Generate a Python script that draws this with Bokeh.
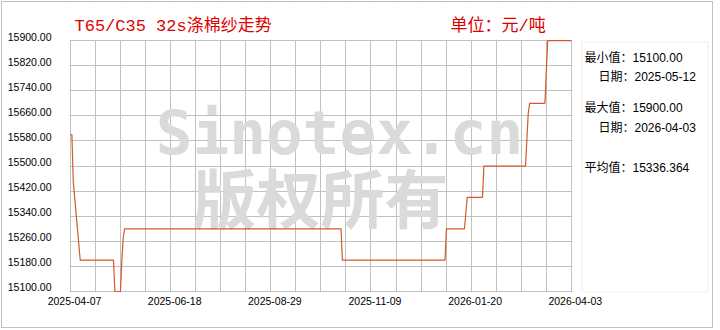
import numpy as np
import pandas as pd
from bokeh.plotting import figure
from bokeh.models import (Range1d, FixedTicker, Label, ColumnDataSource, Grid,
                          LinearAxis, DatetimeAxis, BoxAnnotation)
from bokeh.embed import file_html
from bokeh.resources import INLINE

# ---- data ----
dates = ["2025-04-07", "2025-04-08", "2025-04-09", "2025-04-10", "2025-04-11",
         "2025-04-14", "2025-05-08", "2025-05-09", "2025-05-13", "2025-05-14",
         "2025-05-15", "2025-05-16", "2025-10-19", "2025-10-20", "2026-01-02",
         "2026-01-03", "2026-01-16", "2026-01-18", "2026-01-29", "2026-01-30",
         "2026-03-01", "2026-03-03", "2026-03-04", "2026-03-15", "2026-03-17",
         "2026-04-03"]
prices = [15600, 15600, 15450, 15400, 15350,
          15200, 15200, 15100, 15100, 15200,
          15270, 15300, 15300, 15200, 15200,
          15300, 15300, 15400, 15400, 15500,
          15500, 15670, 15700, 15700, 15900,
          15900]

y_ticks = [15100, 15180, 15260, 15340, 15420, 15500, 15580, 15660, 15740, 15820, 15900]
y_tick_labels = ["15100.00", "15180.00", "15260.00", "15340.00", "15420.00", "15500.00",
                 "15580.00", "15660.00", "15740.00", "15820.00", "15900.00"]
x_tick_labels = ["2025-04-07", "2025-06-18", "2025-08-29", "2025-11-09", "2026-01-20", "2026-04-03"]

title_text = "T65/C35 32s涤棉纱走势"
unit_text = "单位：元/吨"
stats_lines = ["最小值：15100.00", "日期：2025-05-12", "最大值：15900.00", "日期：2026-04-03", "平均值：15336.364"]
watermark_1 = "Sinotex.cn"
watermark_2 = "版权所有"

GRID = "#c0c0c0"
LINE = "#D4582A"
RED = "#e00000"
LAB_FONT = "Liberation Sans"
CJK_FONT = "Liberation Mono, Noto Sans CJK SC"
STAT_FONT = "Liberation Sans, Noto Sans CJK SC"

# ---- scales ----
x0 = pd.Timestamp("2025-04-07")
x1 = pd.Timestamp("2026-04-03")
x0_ms = x0.value / 1e6
x1_ms = x1.value / 1e6
span = x1_ms - x0_ms
y0, y1 = y_ticks[0], y_ticks[-1]
px_x = span / 500.0          # data units per pixel (plotting area is 500 x 250 px)
px_y = (y1 - y0) / 250.0

src = ColumnDataSource(dict(x=pd.to_datetime(dates), y=prices))

# The frame covers the plotting area plus the title strip and the statistics panel,
# so that all texts can be drawn inside it; the parts outside the plotting area are
# blanked out.
p = figure(width=712, height=327,
           x_range=Range1d(x0_ms - 1 * px_x, x0_ms + 643 * px_x),
           y_range=Range1d(y0 - 1 * px_y, y0 + 288 * px_y),
           x_axis_location=None, y_axis_location=None,
           output_backend="svg", toolbar_location=None,
           min_border_left=67, min_border_right=0, min_border_top=0, min_border_bottom=37)
p.background_fill_color = "white"
p.border_fill_color = "white"
p.outline_line_color = None
p.center = [r for r in p.center if not isinstance(r, Grid)]

grid_x = list(np.linspace(x0_ms, x1_ms, 21))
p.add_layout(Grid(dimension=0, ticker=FixedTicker(ticks=grid_x),
                  grid_line_color=GRID, grid_line_width=1))
p.add_layout(Grid(dimension=1, ticker=FixedTicker(ticks=y_ticks),
                  grid_line_color=GRID, grid_line_width=1))

# watermark
p.add_layout(Label(x=336, y=129, x_units="canvas", y_units="canvas", text=watermark_1,
                   text_font="DejaVu Sans Mono", text_font_style="bold", text_font_size="61px",
                   text_color="#dadada", text_align="center", text_baseline="middle",
                   level="underlay"))
p.add_layout(Label(x=317, y=191, x_units="canvas", y_units="canvas", text=watermark_2,
                   text_font="Noto Sans CJK SC", text_font_style="bold", text_font_size="64px",
                   text_color="#dadada", text_align="center", text_baseline="middle",
                   level="underlay"))

# blank out grid overshoot above / right of the plotting area
p.add_layout(BoxAnnotation(bottom=y1 + 1 * px_y, fill_color="white", fill_alpha=1,
                           line_color=None, level="underlay"))
p.add_layout(BoxAnnotation(left=x1_ms + 1 * px_x, fill_color="white", fill_alpha=1,
                           line_color=None, level="underlay"))

# label axes: the reference prints tick labels slightly offset from their grid lines
p.extra_x_ranges = {"xlab": Range1d(p.x_range.start - 4 * px_x, p.x_range.end - 4 * px_x)}
p.extra_y_ranges = {"ylab": Range1d(p.y_range.start - 4 * px_y, p.y_range.end - 4 * px_y)}

xt = list(np.linspace(x0_ms, x1_ms, 6))
xax = DatetimeAxis(x_range_name="xlab", ticker=FixedTicker(ticks=xt))
xax.major_label_overrides = {float(t): lab for t, lab in zip(xt, x_tick_labels)}
yax = LinearAxis(y_range_name="ylab", ticker=FixedTicker(ticks=y_ticks))
yax.major_label_overrides = {t: lab for t, lab in zip(y_ticks, y_tick_labels)}
for ax in (xax, yax):
    ax.axis_line_color = None
    ax.major_tick_line_color = None
    ax.minor_tick_line_color = None
    ax.major_tick_out = 0
    ax.major_tick_in = 0
    ax.minor_tick_out = 0
    ax.minor_tick_in = 0
    ax.major_label_text_font = LAB_FONT
    ax.major_label_text_font_size = "10.5px"
    ax.major_label_text_color = "#000000"
yax.major_label_standoff = 18
xax.major_label_standoff = 4
p.add_layout(xax, "below")
p.add_layout(yax, "left")

p.line("x", "y", source=src, line_color=LINE, line_width=1.2)

# ---- title strip ----
for tx, t in ((71, title_text), (447, unit_text)):
    p.add_layout(Label(x=tx, y=23, x_units="canvas", y_units="canvas", text=t,
                       text_font=CJK_FONT, text_font_size="17px", text_color=RED,
                       text_align="left", text_baseline="middle"))

# ---- statistics panel ----
p.add_layout(BoxAnnotation(left=578.5, right=704.5, top=38.5, bottom=288.5,
                           left_units="canvas", right_units="canvas",
                           top_units="canvas", bottom_units="canvas",
                           fill_alpha=0, line_color=GRID, line_width=1))
stats_x = [581, 595, 581, 595, 581]
stats_y = [54.5, 73.7, 104, 124, 164]
for sx, sy, s in zip(stats_x, stats_y, stats_lines):
    p.add_layout(Label(x=sx, y=sy, x_units="canvas", y_units="canvas", text=s,
                       text_font=STAT_FONT, text_font_size="12px", text_color="#000000",
                       text_align="left", text_baseline="middle"))

p.styles = {"border": "1px solid #c0c0c0", "margin": "1px 0 0 1px"}

open("out.html", "w").write(file_html(p, INLINE))
